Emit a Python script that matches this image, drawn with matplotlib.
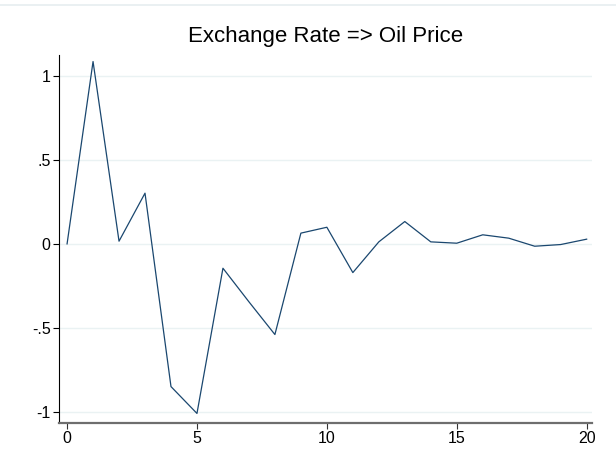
import matplotlib
matplotlib.use("Agg")
import matplotlib.pyplot as plt

# impulse response values
steps = list(range(21))
response = [0.0, 1.086, 0.016, 0.302, -0.85, -1.01, -0.145, -0.345, -0.54, 0.064,
            0.099, -0.171, 0.012, 0.133, 0.012, 0.004, 0.054, 0.034, -0.014, -0.004, 0.028]
yticks = [-1, -0.5, 0, 0.5, 1]
ytick_labels = ["-1", "-.5", "0", ".5", "1"]
xticks = [0, 5, 10, 15, 20]

plt.rcParams["font.family"] = ["Liberation Sans", "DejaVu Sans"]

fig = plt.figure(figsize=(6.16, 4.61), dpi=100)
fig.patch.set_facecolor("white")
# faint frame line at the top of the graph region
fig.add_artist(plt.Line2D([0, 1], [0.989, 0.989], color="#e6eef0", lw=1.2))

ax = fig.add_axes([0.0958, 0.0824, 0.865, 0.7983])
ax.plot(steps, response, color="#1a476f", lw=0.9)

ax.set_xlim(-0.31, 20.2)
ax.set_ylim(-1.067, 1.125)
ax.set_xticks(xticks)
ax.set_yticks(yticks)
ax.set_yticklabels(ytick_labels)
ax.grid(axis="y", color="#eaf2f3", lw=1.0)
ax.set_axisbelow(True)

for side in ["top", "right"]:
    ax.spines[side].set_visible(False)
ax.spines["left"].set_color("black")
ax.spines["left"].set_linewidth(0.8)
ax.spines["bottom"].set_color("#6e6e6e")
ax.spines["bottom"].set_linewidth(1.6)
ax.tick_params(axis="y", length=4, width=0.8, color="black", labelsize=11.5, pad=2)
ax.tick_params(axis="x", length=4, width=0.8, color="#333333", labelsize=11.5, pad=2)

ax.set_title("Exchange Rate => Oil Price", fontsize=16, pad=9)

fig.savefig("out.png", dpi=100)
